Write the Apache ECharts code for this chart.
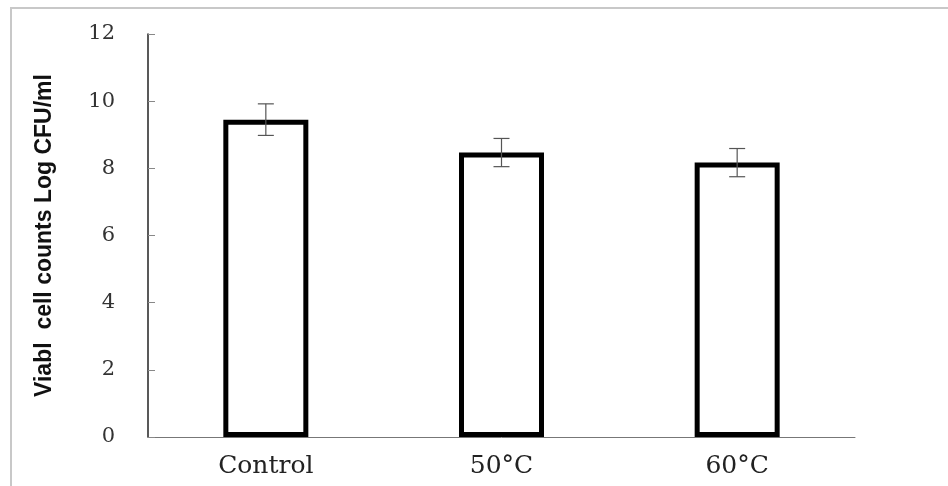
<!DOCTYPE html>
<html>
<head>
<meta charset="utf-8">
<script src="https://cdn.jsdelivr.net/npm/echarts@6/dist/echarts.min.js"></script>
<style>
  html, body { margin: 0; padding: 0; background: #fff; }
  #chart { width: 948px; height: 486px; }
</style>
</head>
<body>
<div id="chart"></div>
<script>
// values
const categories = ['Control', '50°C', '60°C'];
const means = [9.45, 8.47, 8.17];
const errors = [0.47, 0.42, 0.42];
const yTicks = [0, 2, 4, 6, 8, 10, 12];

const chart = echarts.init(document.getElementById('chart'));

const errData = categories.map((c, i) => [i, means[i] - errors[i], means[i] + errors[i]]);

chart.setOption({
  animation: false,
  backgroundColor: '#ffffff',
  graphic: [{
    type: 'polyline',
    shape: { points: [[11, 490], [11, 8], [952, 8]] },
    style: { stroke: '#c8c8c8', lineWidth: 2, fill: null },
    silent: true
  }],
  grid: { left: 148, right: 93, top: 34, bottom: 49 },
  xAxis: {
    type: 'category',
    data: categories,
    axisLine: { lineStyle: { color: '#777', width: 1 } },
    axisTick: { show: false },
    axisLabel: {
      color: '#222',
      fontFamily: 'DejaVu Serif',
      fontSize: 25,
      margin: 17
    }
  },
  yAxis: {
    type: 'value',
    min: yTicks[0],
    max: yTicks[yTicks.length - 1],
    interval: 2,
    name: 'Viabl  cell counts Log CFU/ml',
    nameLocation: 'middle',
    nameGap: 92,
    nameTextStyle: {
      color: '#111',
      fontFamily: '"Liberation Sans Narrow", "Liberation Sans"',
      fontWeight: 'bold',
      fontSize: 23
    },
    splitLine: { show: false },
    axisLine: { show: true, lineStyle: { color: '#222', width: 1.5 } },
    axisTick: { show: true, inside: true, length: 7, lineStyle: { color: '#888' } },
    axisLabel: {
      color: '#333',
      fontFamily: 'DejaVu Serif',
      fontSize: 21,
      margin: 33
    }
  },
  series: [
    {
      type: 'bar',
      data: means,
      barWidth: 85,
      itemStyle: { color: '#ffffff', borderColor: '#000', borderWidth: 5 },
      z: 2
    },
    {
      type: 'custom',
      data: errData,
      z: 3,
      renderItem: function (params, api) {
        const x = api.value(0);
        const lo = api.coord([x, api.value(1)]);
        const hi = api.coord([x, api.value(2)]);
        const cap = 8;
        const st = { stroke: '#555', lineWidth: 1.2 };
        return {
          type: 'group',
          children: [
            { type: 'line', shape: { x1: lo[0], y1: lo[1], x2: hi[0], y2: hi[1] }, style: st },
            { type: 'line', shape: { x1: hi[0] - cap, y1: hi[1], x2: hi[0] + cap, y2: hi[1] }, style: st },
            { type: 'line', shape: { x1: lo[0] - cap, y1: lo[1], x2: lo[0] + cap, y2: lo[1] }, style: st }
          ]
        };
      }
    }
  ]
});
</script>
</body>
</html>
